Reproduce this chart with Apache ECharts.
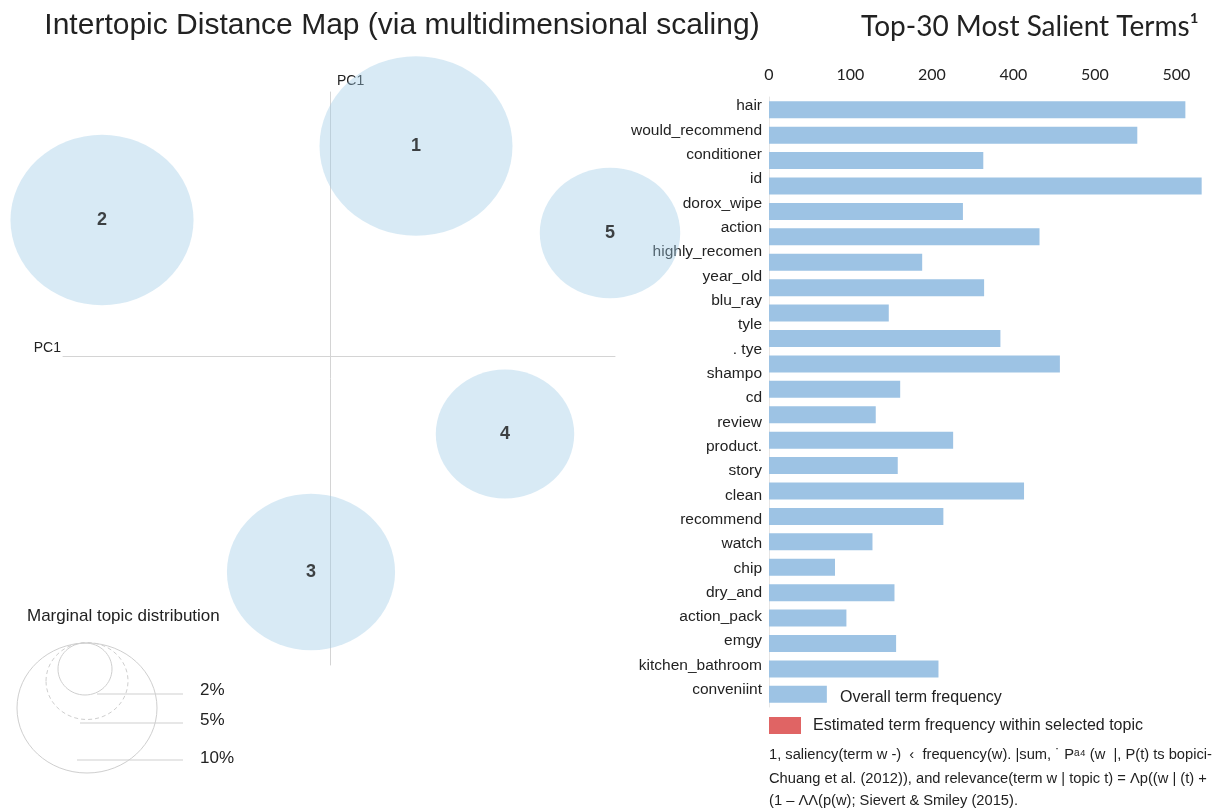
<!DOCTYPE html>
<html>
<head>
<meta charset="utf-8">
<script src="https://cdn.jsdelivr.net/npm/echarts@6/dist/echarts.min.js"></script>
<style>
  html, body { margin: 0; padding: 0; background: #ffffff; }
  #chart { width: 1221px; height: 812px; }
</style>
</head>
<body>
<div id="chart"></div>
<script>
// Topics on the first two principal coordinates
const topicIds = ['1', '2', '3', '4', '5'];
const topicX = [0.86, -2.28, -0.19, 1.75, 2.80];
const topicY = [2.10, 1.36, -2.16, -0.78, 1.23];
// Marginal topic distribution (% of tokens)
const topicShare = [27.0, 24.3, 20.5, 13.9, 14.3];
const sizeLegendLabels = ['2%', '5%', '10%'];

// Salient terms and their overall frequency (null = no bar drawn)
const terms = [
  'hair', 'would_recommend', 'conditioner', 'id', 'dorox_wipe', 'action',
  'highly_recomen', 'year_old', 'blu_ray', 'tyle', '. tye', 'shampo', 'cd',
  'review', 'product.', 'story', 'clean', 'recommend', 'watch', 'chip',
  'dry_and', 'action_pack', 'emgy', 'kitchen_bathroom', 'conveniint'
];
const termFrequency = [
  511, 452, 263, 531, 238, 332,
  188, 264, 147, 284, 357, 161, null,
  131, 226, 158, 313, 214, 127, 81,
  154, 95, 156, 208, 71
];
const freqTickLabels = ['0', '100', '200', '400', '500', '500'];

const legendTexts = ['Overall term frequency', 'Estimated term frequency within selected topic'];
const footnoteLines = [
  '1, saliency(term w -)  \u2039  frequency(w). |sum, \u02d9 P\u1d43\u2074 (w  |, P(t) ts bopici-',
  'Chuang et al. (2012)), and relevance(term w | topic t) = \u039bp((w | (t) +',
  '(1 \u2013 \u039b\u039b(p(w); Sievert & Smiley (2015).'
];

// Circle diameter grows with the square root of the topic share
const diameterPerRootShare = 37.14;
const verticalAspect = 0.93;
function circleSize(share) {
  const d = diameterPerRootShare * Math.sqrt(share);
  return [d, d * verticalAspect];
}

const barTerms = terms.filter((t, i) => termFrequency[i] != null);
const barValues = termFrequency.filter(v => v != null);

const SANS = '"Liberation Sans", Arial, sans-serif';
const GEO = 'Lato, "Liberation Sans", sans-serif';
const INK = '#222222';

const chart = echarts.init(document.getElementById('chart'), null, { renderer: 'canvas' });

const option = {
  backgroundColor: '#ffffff',
  animation: false,
  title: [
    {
      text: 'Intertopic Distance Map (via multidimensional scaling)',
      left: 397, top: 6, textAlign: 'center',
      textStyle: { fontFamily: SANS, fontSize: 30, fontWeight: 'normal', color: INK }
    },
    {
      text: 'Top-30 Most Salient Terms\u00b9',
      left: 1025, top: 8, textAlign: 'center',
      textStyle: { fontFamily: GEO, fontSize: 28, fontWeight: 'normal', color: INK }
    }
  ],
  grid: [
    { left: 63, top: 92, width: 552, height: 573 },
    { left: 769, top: 97, width: 440, height: 610 },
    { left: 769, top: 94, width: 440, height: 608 }
  ],
  xAxis: [
    {
      gridIndex: 0, type: 'value', min: -2.67, max: 2.85,
      axisLine: { show: true, onZero: true, lineStyle: { color: '#d4d4d4', width: 1 } },
      axisTick: { show: false }, axisLabel: { show: false }, splitLine: { show: false },
      name: 'PC1', nameLocation: 'start', nameGap: 2,
      nameTextStyle: { fontFamily: SANS, fontSize: 14, color: INK, verticalAlign: 'bottom', padding: [0, 0, 1, 0] }
    },
    {
      gridIndex: 1, type: 'value', min: 0, max: 540, interval: 100, position: 'top',
      axisLine: { show: false }, axisTick: { show: false }, splitLine: { show: false },
      axisLabel: {
        margin: 14, fontFamily: GEO, fontSize: 16, color: INK,
        formatter: v => (v % 100 === 0 && freqTickLabels[v / 100] !== undefined) ? freqTickLabels[v / 100] : ''
      }
    },
    {
      gridIndex: 2, type: 'value', min: 0, max: 540, show: false
    }
  ],
  yAxis: [
    {
      gridIndex: 0, type: 'value', min: -3.09, max: 2.64,
      axisLine: { show: true, onZero: true, lineStyle: { color: '#d4d4d4', width: 1 } },
      axisTick: { show: false }, axisLabel: { show: false }, splitLine: { show: false },
      name: 'PC1', nameLocation: 'end', nameGap: 4,
      nameTextStyle: { fontFamily: SANS, fontSize: 14, color: INK, align: 'left', padding: [0, 0, 0, 7] }
    },
    {
      gridIndex: 1, type: 'category', data: barTerms, inverse: true,
      axisLine: { show: true, lineStyle: { color: '#e6e6e6', width: 1 } },
      axisTick: { show: false }, axisLabel: { show: false }, splitLine: { show: false }
    },
    {
      gridIndex: 2, type: 'category', data: terms, inverse: true,
      axisLine: { show: false }, axisTick: { show: false }, splitLine: { show: false },
      axisLabel: { margin: 7, fontFamily: SANS, fontSize: 15.5, color: INK }
    }
  ],
  series: [
    {
      type: 'scatter', xAxisIndex: 0, yAxisIndex: 0, clip: false,
      data: topicIds.map((id, i) => ({
        name: id,
        value: [topicX[i], topicY[i]],
        symbolSize: circleSize(topicShare[i])
      })),
      itemStyle: { color: 'rgba(158,202,230,0.5)' },
      label: {
        show: true, position: 'inside', formatter: p => p.name,
        fontFamily: SANS, fontSize: 18, fontWeight: 'bold', color: '#151515'
      }
    },
    {
      type: 'bar', xAxisIndex: 1, yAxisIndex: 1,
      data: barValues, barWidth: 17,
      itemStyle: { color: '#9dc3e4' }
    }
  ],
  graphic: [
    // marginal topic distribution key
    { type: 'text', left: 27, top: 608, style: { text: 'Marginal topic distribution', font: '17px ' + SANS, fill: INK } },
    { type: 'ellipse', shape: { cx: 87, cy: 708, rx: 70, ry: 65 }, style: { fill: 'none', stroke: '#cfcfcf', lineWidth: 1 } },
    { type: 'ellipse', shape: { cx: 87, cy: 681, rx: 41, ry: 38.5 }, style: { fill: 'none', stroke: '#cfcfcf', lineWidth: 1, lineDash: [4, 3] } },
    { type: 'ellipse', shape: { cx: 85, cy: 669, rx: 27, ry: 26 }, style: { fill: 'none', stroke: '#cfcfcf', lineWidth: 1 } },
    { type: 'line', shape: { x1: 97, y1: 694, x2: 183, y2: 694 }, style: { stroke: '#cfcfcf', lineWidth: 1 } },
    { type: 'line', shape: { x1: 80, y1: 723, x2: 183, y2: 723 }, style: { stroke: '#cfcfcf', lineWidth: 1 } },
    { type: 'line', shape: { x1: 77, y1: 760, x2: 183, y2: 760 }, style: { stroke: '#cfcfcf', lineWidth: 1 } },
    { type: 'text', x: 200, y: 690, style: { text: sizeLegendLabels[0], font: '17px ' + SANS, fill: INK, verticalAlign: 'middle' } },
    { type: 'text', x: 200, y: 720, style: { text: sizeLegendLabels[1], font: '17px ' + SANS, fill: INK, verticalAlign: 'middle' } },
    { type: 'text', x: 200, y: 758, style: { text: sizeLegendLabels[2], font: '17px ' + SANS, fill: INK, verticalAlign: 'middle' } },
    // bar legend
    { type: 'text', x: 840, y: 698, style: { text: legendTexts[0], font: '16px ' + SANS, fill: INK, verticalAlign: 'middle' } },
    { type: 'rect', shape: { x: 769, y: 717, width: 32, height: 17 }, style: { fill: '#e06464' } },
    { type: 'text', x: 813, y: 726, style: { text: legendTexts[1], font: '16px ' + SANS, fill: INK, verticalAlign: 'middle' } },
    // footnote
    { type: 'text', x: 769, y: 755, style: { text: footnoteLines[0], font: '14.7px ' + SANS, fill: INK, verticalAlign: 'middle' } },
    { type: 'text', x: 769, y: 779, style: { text: footnoteLines[1], font: '14.7px ' + SANS, fill: INK, verticalAlign: 'middle' } },
    { type: 'text', x: 769, y: 801, style: { text: footnoteLines[2], font: '14.7px ' + SANS, fill: INK, verticalAlign: 'middle' } }
  ]
};

chart.setOption(option);
</script>
</body>
</html>
